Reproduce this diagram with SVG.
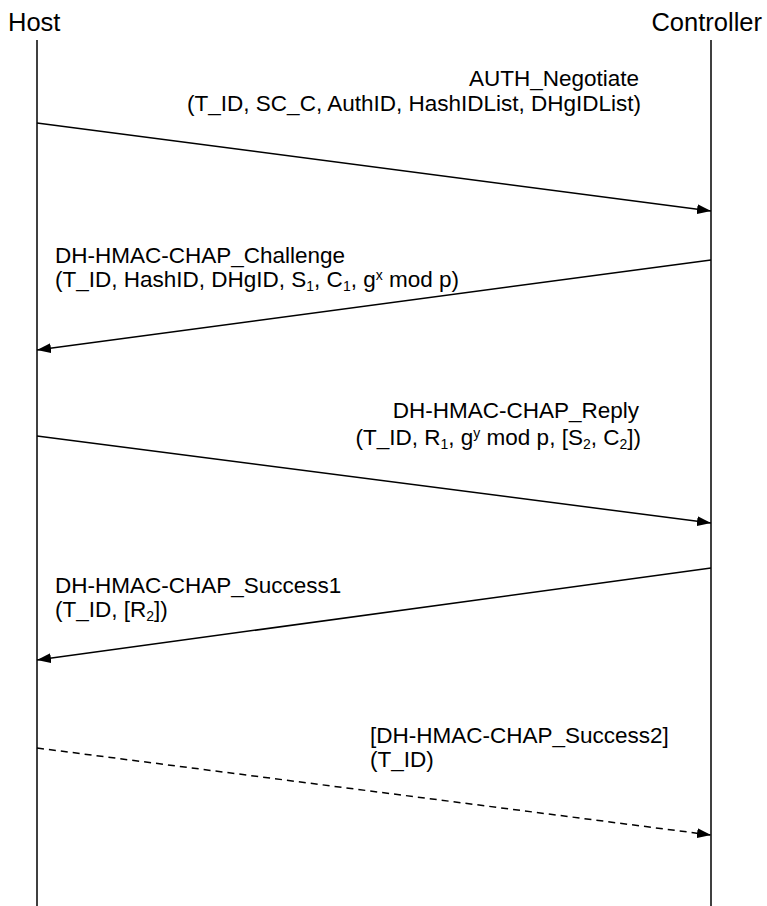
<svg xmlns="http://www.w3.org/2000/svg" width="767" height="906" viewBox="0 0 767 906">
<style>
text{font-family:"Liberation Sans",Arial,sans-serif;font-size:22.5px;fill:#000}
.hd{font-size:25.5px}
.life{stroke:#000;stroke-width:1.5;fill:none}
.msg{stroke:#000;stroke-width:1.5;fill:none;marker-end:url(#ah)}
.dash{stroke-dasharray:7 5}
.sub{font-size:14px}
.r{text-anchor:end}
</style>
<defs>
<marker id="ah" viewBox="0 0 14 10" refX="14" refY="5" markerWidth="14" markerHeight="10" markerUnits="userSpaceOnUse" orient="auto">
<path d="M0,0 L14,5 L0,10 z" fill="#000"/>
</marker>
</defs>
<g id="host">
<text class="hd" x="8" y="31">Host</text>
<line class="life" x1="37" y1="40" x2="37" y2="906"/>
</g>
<g id="controller">
<text class="hd r" x="762" y="31">Controller</text>
<line class="life" x1="711" y1="40" x2="711" y2="906"/>
</g>
<g id="connectors">
<line class="msg" x1="37" y1="123" x2="711" y2="211"/>
<line class="msg" x1="711" y1="260" x2="37" y2="350"/>
<line class="msg" x1="37" y1="436" x2="711" y2="523"/>
<line class="msg" x1="711" y1="568" x2="37" y2="660"/>
<line class="msg dash" x1="37" y1="748" x2="711" y2="835"/>
</g>
<g id="labels">
<text class="r" x="639" y="86">AUTH_Negotiate</text>
<text class="r" x="641" y="111">(T_ID, SC_C, AuthID, HashIDList, DHgIDList)</text>
<text x="55" y="263">DH-HMAC-CHAP_Challenge</text>
<text x="55" y="287">(T_ID, HashID, DHgID, S<tspan class="sub" dy="4">1</tspan><tspan dy="-4">, C</tspan><tspan class="sub" dy="4">1</tspan><tspan dy="-4">, g</tspan><tspan class="sub" dy="-7">x</tspan><tspan dy="7"> mod p)</tspan></text>
<text class="r" x="639" y="418">DH-HMAC-CHAP_Reply</text>
<text class="r" x="641" y="445">(T_ID, R<tspan class="sub" dy="4">1</tspan><tspan dy="-4">, g</tspan><tspan class="sub" dy="-7">y</tspan><tspan dy="7"> mod p, [S</tspan><tspan class="sub" dy="4">2</tspan><tspan dy="-4">, C</tspan><tspan class="sub" dy="4">2</tspan><tspan dy="-4">])</tspan></text>
<text x="55" y="593">DH-HMAC-CHAP_Success1</text>
<text x="55" y="617">(T_ID, [R<tspan class="sub" dy="4">2</tspan><tspan dy="-4">])</tspan></text>
<text x="370" y="743">[DH-HMAC-CHAP_Success2]</text>
<text x="370" y="767">(T_ID)</text>
</g>
</svg>
